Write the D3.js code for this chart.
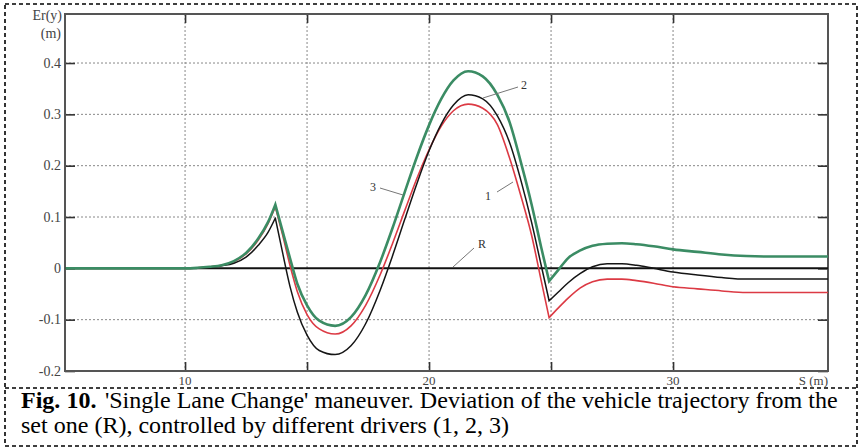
<!DOCTYPE html>
<html><head><meta charset="utf-8">
<script src="https://cdn.jsdelivr.net/npm/d3@7"></script>
<style>body{margin:0;background:#fff}svg{display:block}</style>
</head><body>
<script>
// ---- data ----
const S = [5.1, 8, 10, 10.5, 11, 11.5, 12, 12.5, 13, 13.4, 13.7, 14.0, 14.3, 14.6, 15.0, 15.5, 16.15, 16.8, 17.4, 18, 18.5, 19, 19.5, 20, 20.5, 21, 21.6, 22.2, 22.8, 23.3, 23.8, 24.2, 24.6, 24.92, 25.3, 25.7, 26.2, 26.7, 27.3, 27.9, 28.5, 29.2, 30, 31, 32, 33, 34, 35, 36.35];
const driver1 = [0, 0, 0, 0.001, 0.003, 0.006, 0.013, 0.028, 0.055, 0.087, 0.12, 0.065, 0.006, -0.045, -0.09, -0.118, -0.128, -0.112, -0.072, -0.012, 0.048, 0.112, 0.175, 0.231, 0.277, 0.307, 0.32, 0.312, 0.28, 0.215, 0.135, 0.065, -0.025, -0.096, -0.077, -0.058, -0.038, -0.026, -0.021, -0.021, -0.024, -0.029, -0.036, -0.04, -0.044, -0.047, -0.047, -0.047, -0.047];
const driver2 = [0, 0, 0, 0.001, 0.002, 0.005, 0.01, 0.022, 0.045, 0.07, 0.098, 0.03, -0.035, -0.085, -0.13, -0.16, -0.168, -0.151, -0.108, -0.042, 0.024, 0.095, 0.165, 0.229, 0.281, 0.318, 0.338, 0.33, 0.297, 0.245, 0.165, 0.09, 0.005, -0.063, -0.046, -0.028, -0.01, 0.003, 0.009, 0.009, 0.006, 0.0, -0.007, -0.013, -0.018, -0.021, -0.021, -0.021, -0.021];
const driver3 = [0, 0, 0, 0.001, 0.003, 0.006, 0.014, 0.03, 0.058, 0.09, 0.124, 0.072, 0.02, -0.03, -0.072, -0.102, -0.112, -0.095, -0.052, 0.013, 0.078, 0.148, 0.217, 0.279, 0.33, 0.366, 0.384, 0.374, 0.338, 0.285, 0.2, 0.125, 0.04, -0.025, -0.003, 0.02, 0.035, 0.044, 0.048, 0.049, 0.047, 0.043, 0.037, 0.032, 0.027, 0.024, 0.023, 0.023, 0.023];
const cornerS = [13.7, 24.92];   // sharp corners of the trajectories
const reference = [0, 0];
const referenceS = [5.08, 36.35];
const xTicks = [10, 15, 20, 25, 30];
const xTickLabels = ["10", "", "20", "", "30"];
const yTicks = [0.4, 0.3, 0.2, 0.1, 0, -0.1, -0.2];
const yTickLabels = ["0.4", "0.3", "0.2", "0.1", "0", "-0.1", "-0.2"];
const seriesNames = ["1", "2", "3", "R"];
const captionBold = "Fig. 10.";
const captionLine1 = "'Single Lane Change' maneuver. Deviation of the vehicle trajectory from the";
const captionLine2 = "set one (R), controlled by different drivers (1, 2, 3)";

// ---- layout ----
const W = 860, H = 448;
const L = 65, R = 828, T = 14, B = 371;
const svg = d3.select("body").append("svg").attr("width", W).attr("height", H);
const x = d3.scaleLinear().domain([5.08, 36.35]).range([L, R]);
const y = d3.scaleLinear().domain([-0.2, 0.4955]).range([B, T]);
const serif = "Liberation Serif, Times New Roman, Tinos, serif";

// dashed frame
const dash = "4,3";
svg.append("rect").attr("x", 5).attr("y", 4).attr("width", 852).attr("height", 442)
  .attr("fill", "none").attr("stroke", "#000").attr("stroke-width", 1.6).attr("stroke-dasharray", dash);
svg.append("line").attr("x1", 5).attr("x2", 857).attr("y1", 388).attr("y2", 388)
  .attr("stroke", "#000").attr("stroke-width", 1.6).attr("stroke-dasharray", dash);

// grid
const g = svg.append("g");
g.selectAll(".vg").data(xTicks).join("line")
  .attr("x1", d => x(d)).attr("x2", d => x(d)).attr("y1", T).attr("y2", B)
  .attr("stroke", "#888").attr("stroke-width", 1).attr("stroke-dasharray", "2,2");
g.selectAll(".hg").data(yTicks.filter(v => v !== 0 && v !== -0.2)).join("line")
  .attr("x1", L).attr("x2", R).attr("y1", d => y(d)).attr("y2", d => y(d))
  .attr("stroke", "#888").attr("stroke-width", 1).attr("stroke-dasharray", "2,2");

// axes via d3 axis generators (inner ticks)
const axCol = "#555";
const axB = d3.axisBottom(x).tickValues(xTicks).tickSize(-9).tickFormat("");
const axT = d3.axisTop(x).tickValues(xTicks).tickSize(-9).tickFormat("");
const axLft = d3.axisLeft(y).tickValues(yTicks).tickSize(-10).tickFormat("");
const axRgt = d3.axisRight(y).tickValues(yTicks).tickSize(-10).tickFormat("");
[[axB, `translate(0,${B})`], [axT, `translate(0,${T})`], [axLft, `translate(${L},0)`], [axRgt, `translate(${R},0)`]]
  .forEach(([a, tr]) => {
    const s = svg.append("g").attr("transform", tr).call(a);
    s.select(".domain").remove();
    s.selectAll(".tick line").attr("stroke", "#333").attr("stroke-width", 1.6);
  });
svg.append("rect").attr("x", L).attr("y", T).attr("width", R - L).attr("height", B - T)
  .attr("fill", "none").attr("stroke", axCol).attr("stroke-width", 2);

// tick labels
svg.selectAll(".xl").data(xTicks).join("text")
  .attr("x", d => x(d)).attr("y", 385).attr("text-anchor", "middle")
  .style("font-family", serif).attr("font-size", 13).attr("fill", "#444")
  .text((d, i) => xTickLabels[i]);
svg.selectAll(".yl").data(yTicks).join("text")
  .attr("x", 61).attr("y", d => y(d) + 4.5).attr("text-anchor", "end")
  .style("font-family", serif).attr("font-size", 14).attr("fill", "#444")
  .text((d, i) => yTickLabels[i]);
svg.append("text").attr("x", 62).attr("y", 20).attr("text-anchor", "end")
  .style("font-family", serif).attr("font-size", 14).attr("fill", "#444").text("Er(y)");
svg.append("text").attr("x", 61).attr("y", 38).attr("text-anchor", "end")
  .style("font-family", serif).attr("font-size", 14).attr("fill", "#444").text("(m)");
svg.append("text").attr("x", 828).attr("y", 385).attr("text-anchor", "end")
  .style("font-family", serif).attr("font-size", 13).attr("fill", "#444").text("S (m)");

// curves: smooth pieces joined at the sharp corners
const line = d3.line().x(d => x(d[0])).y(d => y(d[1])).curve(d3.curveMonotoneX);
const sharpLine = d3.line().x(d => x(d[0])).y(d => y(d[1]));
svg.append("path").datum(referenceS.map((s, i) => [s, reference[i]])).attr("d", sharpLine)
  .attr("fill", "none").attr("stroke", "#111").attr("stroke-width", 2);
const series = [
  {v: driver1, c: "#dc3a44", w: 1.6},
  {v: driver2, c: "#151515", w: 1.5},
  {v: driver3, c: "#3b8c64", w: 2.6}
];
function pieces(vals) {
  const pts = S.map((s, i) => [s, vals[i]]);
  const out = []; let cur = [];
  pts.forEach(p => { cur.push(p); if (cornerS.includes(p[0])) { out.push(cur); cur = [p]; } });
  out.push(cur);
  return out;
}
series.forEach(sr => {
  const d = pieces(sr.v).map(pc => line(pc)).map((str, i) => i === 0 ? str : str.replace(/^M[^CLHVQSTAZ]*/, m => "L" + m.slice(1))).join("");
  svg.append("path").attr("d", d)
    .attr("fill", "none").attr("stroke", sr.c).attr("stroke-width", sr.w).attr("stroke-linejoin", "miter");
});

// callout labels
const callouts = [
  {t: seriesNames[0], tx: 488, ty: 200, x1: 497, y1: 192, x2: 513, y2: 182},
  {t: seriesNames[1], tx: 524, ty: 89, x1: 483, y1: 98, x2: 518, y2: 87},
  {t: seriesNames[2], tx: 373, ty: 191, x1: 380, y1: 188, x2: 403, y2: 195},
  {t: seriesNames[3], tx: 482, ty: 248, x1: 474, y1: 248, x2: 453, y2: 267}
];
callouts.forEach(c => {
  svg.append("line").attr("x1", c.x1).attr("y1", c.y1).attr("x2", c.x2).attr("y2", c.y2)
    .attr("stroke", "#777").attr("stroke-width", 1);
  svg.append("text").attr("x", c.tx).attr("y", c.ty).attr("text-anchor", "middle")
    .style("font-family", serif).attr("font-size", 12).attr("fill", "#333").text(c.t);
});

// caption
const fs0 = 20;
const capB = svg.append("text").attr("x", 21).attr("y", 408)
  .style("font-family", serif).attr("font-size", fs0).attr("font-weight", "bold").attr("fill", "#000").text(captionBold);
const capR = svg.append("text").attr("y", 408)
  .style("font-family", serif).attr("font-size", fs0).attr("fill", "#000").text(captionLine1);
const wb = capB.node().getComputedTextLength(), wr = capR.node().getComputedTextLength();
const gap = 0.35 * fs0;
const fs = fs0 * 817 / (wb + gap + wr);
capB.attr("font-size", fs);
capR.attr("font-size", fs).attr("x", 21 + (wb + gap) * fs / fs0);
svg.append("text").attr("x", 21).attr("y", 433)
  .style("font-family", serif).attr("font-size", fs).attr("fill", "#000").text(captionLine2);
</script>
</body></html>
